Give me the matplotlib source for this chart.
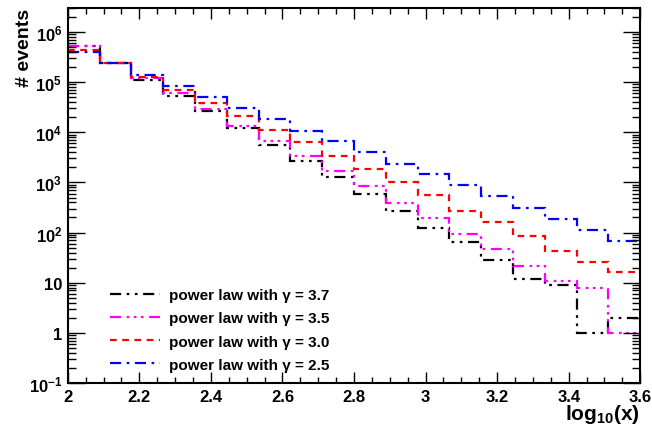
import matplotlib
matplotlib.use("Agg")
import matplotlib.pyplot as plt
import numpy as np
from matplotlib.ticker import LogLocator, MultipleLocator, FixedLocator, FixedFormatter

plt.rcParams['font.family'] = ['Liberation Sans', 'DejaVu Sans']
plt.rcParams['font.weight'] = 'bold'
plt.rcParams['mathtext.fontset'] = 'custom'
plt.rcParams['mathtext.rm'] = 'Liberation Sans:bold'
plt.rcParams['mathtext.bf'] = 'Liberation Sans:bold'
plt.rcParams['mathtext.it'] = 'Liberation Sans:bold'

# 18 bins in log10(x) from 2 to 3.6
x_lo = 2.0
x_hi = 3.6
n_bins = 18

gamma_37 = [5.3e5, 2.45e5, 1.12e5, 5.4e4, 2.6e4, 1.2e4, 5.5e3, 2.7e3, 1.26e3,
            600, 270, 121, 65, 28, 12, 9, 1, 2]
gamma_35 = [5.2e5, 2.45e5, 1.22e5, 6.0e4, 2.9e4, 1.36e4, 6.8e3, 3.3e3, 1.7e3,
            830, 380, 194, 93, 48, 22, 11, 8, 1]
gamma_30 = [4.45e5, 2.45e5, 1.28e5, 6.9e4, 3.9e4, 2.08e4, 1.11e4, 6.3e3, 3.3e3,
            1.84e3, 1.0e3, 565, 271, 159, 86, 42, 26, 16]
gamma_25 = [4.0e5, 2.45e5, 1.41e5, 8.5e4, 5.1e4, 3.04e4, 1.83e4, 1.07e4, 6.6e3,
            3.97e3, 2.32e3, 1.46e3, 884, 540, 303, 185, 113, 68]

labels = ["power law with γ = 3.7", "power law with γ = 3.5",
          "power law with γ = 3.0", "power law with γ = 2.5"]

edges = np.linspace(x_lo, x_hi, n_bins + 1)

fig = plt.figure(figsize=(6.52, 4.31), dpi=100)
ax = fig.add_axes([0.104, 0.109, 0.878, 0.870])

ax.stairs(gamma_37, edges, color='black', lw=1.6, ls=(0, (5, 2.5, 1.2, 2.5, 1.2, 2.5)), label=labels[0], baseline=None)
ax.stairs(gamma_35, edges, color='magenta', lw=1.6, ls=(0, (5, 2.5, 1.2, 2, 1.2, 2, 1.2, 2.5)), label=labels[1], baseline=None)
ax.stairs(gamma_30, edges, color='red', lw=1.6, ls=(0, (3, 2.5)), label=labels[2], baseline=None)
ax.stairs(gamma_25, edges, color='blue', lw=1.6, ls=(0, (5, 2.5, 1.2, 2.5)), label=labels[3], baseline=None)

ax.set_yscale('log')
ax.set_xlim(x_lo, x_hi)
ax.set_ylim(0.1, 3e6)

ax.xaxis.set_major_locator(MultipleLocator(0.2))
ax.xaxis.set_minor_locator(MultipleLocator(0.05))
ax.xaxis.set_major_formatter(plt.FuncFormatter(lambda v, p: ('%g' % v)))

yt = [0.1, 1, 10, 100, 1e3, 1e4, 1e5, 1e6]
ytl = [r"$10^{-1}$", "1", "10", r"$10^{2}$", r"$10^{3}$", r"$10^{4}$", r"$10^{5}$", r"$10^{6}$"]
ax.yaxis.set_major_locator(FixedLocator(yt))
ax.yaxis.set_major_formatter(FixedFormatter(ytl))
ax.yaxis.set_minor_locator(LogLocator(base=10, subs=np.arange(2, 10), numticks=20))
ax.yaxis.set_minor_formatter(plt.NullFormatter())

ax.tick_params(axis='both', which='both', direction='in', top=True, right=True, labelsize=12, width=1)
ax.tick_params(axis='x', which='major', length=8, pad=4)
ax.tick_params(axis='x', which='minor', length=4)
ax.tick_params(axis='y', which='major', length=12, pad=4)
ax.tick_params(axis='y', which='minor', length=6)
for lab in ax.get_xticklabels() + ax.get_yticklabels():
    lab.set_fontweight('bold')
for s in ax.spines.values():
    s.set_linewidth(1.5)

ax.set_xlabel(r"log$_{10}$(x)", fontsize=15, fontweight='bold', loc='right', labelpad=-1)
ax.set_ylabel("# events", fontsize=14, fontweight='bold', loc='top', labelpad=-3)

leg = ax.legend(loc='lower left', bbox_to_anchor=(0.073, 0.03), frameon=False,
                fontsize=11, handlelength=3.3, handletextpad=0.6, labelspacing=0.6,
                borderpad=0, borderaxespad=0)
for t in leg.get_texts():
    t.set_fontweight('bold')

fig.savefig("out.png", dpi=100)
